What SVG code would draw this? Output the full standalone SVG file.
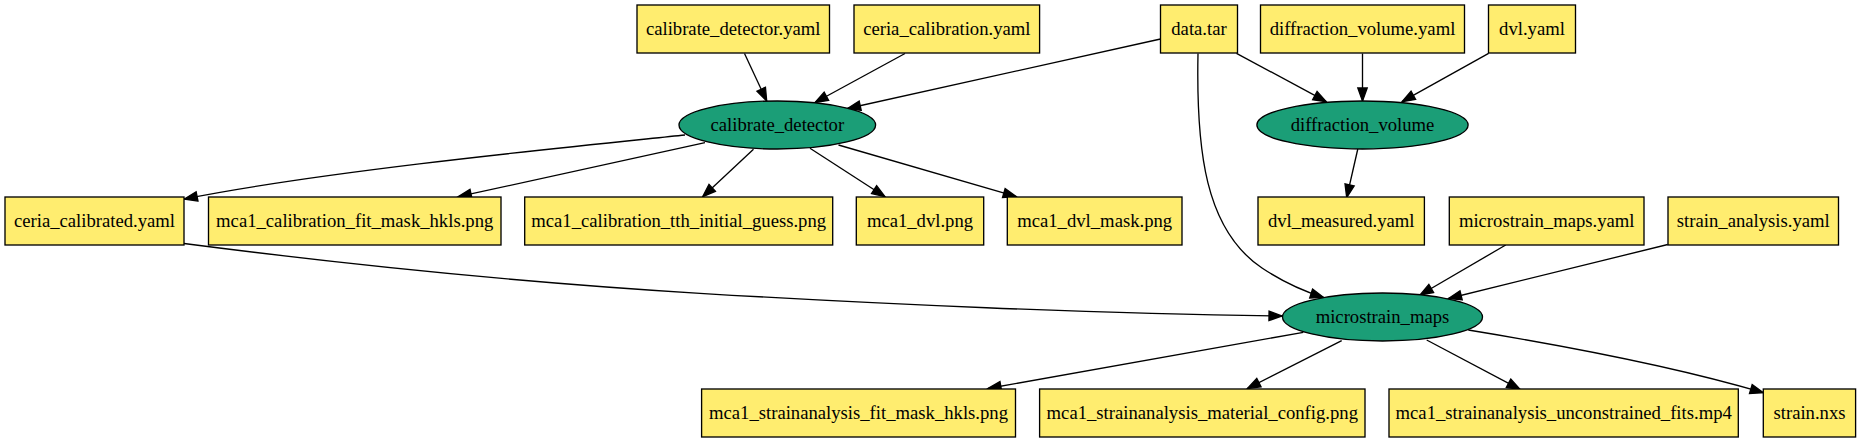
<svg xmlns="http://www.w3.org/2000/svg" width="1861" height="443" viewBox="0 0 1861 443" font-family="'Liberation Serif', 'DejaVu Serif', serif">
<defs>
<style>
.box{fill:#ffed6f;stroke:#000;stroke-width:1.33}
.ell{fill:#1b9e77;stroke:#000;stroke-width:1.33}
.t{font-family:'Liberation Serif','DejaVu Serif',serif;font-size:18.67px;text-anchor:middle;fill:#000}
.e{fill:none;stroke:#000;stroke-width:1.33;marker-end:url(#ah)}
</style>
<marker id="ah" markerUnits="userSpaceOnUse" markerWidth="18" markerHeight="14" refX="14" refY="7" orient="auto" overflow="visible">
<path d="M1,2.3 L14,7 L1,11.7 z" fill="#000" stroke="#000" stroke-width="1.33"/>
</marker>
</defs>
<rect width="1861" height="443" fill="#fff"/>
<g id="edges">
<path class="e" d="M744.5,53.5 L766.7,101"/>
<path class="e" d="M905,53.5 L815,102.5"/>
<path class="e" d="M1160.5,39 L847.5,108.5"/>
<path class="e" d="M1236.5,53.3 L1326.3,101.7"/>
<path class="e" d="M1362.5,53.5 L1362.5,101"/>
<path class="e" d="M1488.6,53.3 L1402,101.7"/>
<path class="e" d="M1198,53.5 C1196,150 1205,230 1262,268 C1280,280 1300,290 1323.5,297.5"/>
<path class="e" d="M685,135 C580,146 330,170 184.3,199"/>
<path class="e" d="M705,142.7 L458.3,196.7"/>
<path class="e" d="M753.5,149.3 L702.7,196.7"/>
<path class="e" d="M810,148.3 L885,196.7"/>
<path class="e" d="M838.5,145 L1016.3,196.7"/>
<path class="e" d="M1357.8,149 L1346.7,197.5"/>
<path class="e" d="M184,243.5 C350,265 530,283 700,293.3 C870,303.6 1100,314 1282,316"/>
<path class="e" d="M1505.7,245 L1420,295"/>
<path class="e" d="M1667.8,244.5 L1448.5,298.5"/>
<path class="e" d="M1303.3,332.3 L988,388.5"/>
<path class="e" d="M1341.7,340.7 L1247.3,388.5"/>
<path class="e" d="M1426.7,340 L1520,389.3"/>
<path class="e" d="M1468.3,330 C1560,345 1680,368 1763.3,392.7"/>
</g>
<g id="calibrate_detector_yaml"><rect class="box" x="637" y="5" width="192.5" height="48"/><text class="t" x="733.2" y="35">calibrate_detector.yaml</text></g>
<g id="ceria_calibration_yaml"><rect class="box" x="854" y="5" width="185.6" height="48"/><text class="t" x="946.8" y="35">ceria_calibration.yaml</text></g>
<g id="data_tar"><rect class="box" x="1160.5" y="5" width="77" height="48"/><text class="t" x="1199" y="35">data.tar</text></g>
<g id="diffraction_volume_yaml"><rect class="box" x="1260.5" y="5" width="204" height="48"/><text class="t" x="1362.5" y="35">diffraction_volume.yaml</text></g>
<g id="dvl_yaml"><rect class="box" x="1488.5" y="5" width="87" height="48"/><text class="t" x="1532" y="35">dvl.yaml</text></g>
<g id="calibrate_detector"><ellipse class="ell" cx="777.3" cy="125" rx="98.3" ry="24"/><text class="t" x="777.3" y="131">calibrate_detector</text></g>
<g id="diffraction_volume"><ellipse class="ell" cx="1362.5" cy="125" rx="105.6" ry="24"/><text class="t" x="1362.5" y="131">diffraction_volume</text></g>
<g id="ceria_calibrated_yaml"><rect class="box" x="5" y="197" width="179" height="48"/><text class="t" x="94.5" y="227">ceria_calibrated.yaml</text></g>
<g id="mca1_calibration_fit_mask_hkls_png"><rect class="box" x="208.5" y="197" width="292.5" height="48"/><text class="t" x="354.7" y="227">mca1_calibration_fit_mask_hkls.png</text></g>
<g id="mca1_calibration_tth_initial_guess_png"><rect class="box" x="524.7" y="197" width="308" height="48"/><text class="t" x="678.7" y="227">mca1_calibration_tth_initial_guess.png</text></g>
<g id="mca1_dvl_png"><rect class="box" x="856.3" y="197" width="127.4" height="48"/><text class="t" x="920" y="227">mca1_dvl.png</text></g>
<g id="mca1_dvl_mask_png"><rect class="box" x="1007.3" y="197" width="174.7" height="48"/><text class="t" x="1094.7" y="227">mca1_dvl_mask.png</text></g>
<g id="dvl_measured_yaml"><rect class="box" x="1258" y="197" width="166.4" height="48"/><text class="t" x="1341.2" y="227">dvl_measured.yaml</text></g>
<g id="microstrain_maps_yaml"><rect class="box" x="1449.3" y="197" width="194.7" height="48"/><text class="t" x="1546.7" y="227">microstrain_maps.yaml</text></g>
<g id="strain_analysis_yaml"><rect class="box" x="1668" y="197" width="170.5" height="48"/><text class="t" x="1753.3" y="227">strain_analysis.yaml</text></g>
<g id="microstrain_maps"><ellipse class="ell" cx="1382.5" cy="317" rx="100" ry="24"/><text class="t" x="1382.5" y="323">microstrain_maps</text></g>
<g id="mca1_strainanalysis_fit_mask_hkls_png"><rect class="box" x="701.6" y="389" width="313.9" height="48"/><text class="t" x="858.5" y="419">mca1_strainanalysis_fit_mask_hkls.png</text></g>
<g id="mca1_strainanalysis_material_config_png"><rect class="box" x="1039.6" y="389" width="325.4" height="48"/><text class="t" x="1202.3" y="419">mca1_strainanalysis_material_config.png</text></g>
<g id="mca1_strainanalysis_unconstrained_fits_mp4"><rect class="box" x="1389" y="389" width="349.3" height="48"/><text class="t" x="1563.7" y="419">mca1_strainanalysis_unconstrained_fits.mp4</text></g>
<g id="strain_nxs"><rect class="box" x="1763.3" y="389" width="92.3" height="48"/><text class="t" x="1809.5" y="419">strain.nxs</text></g>
</svg>
